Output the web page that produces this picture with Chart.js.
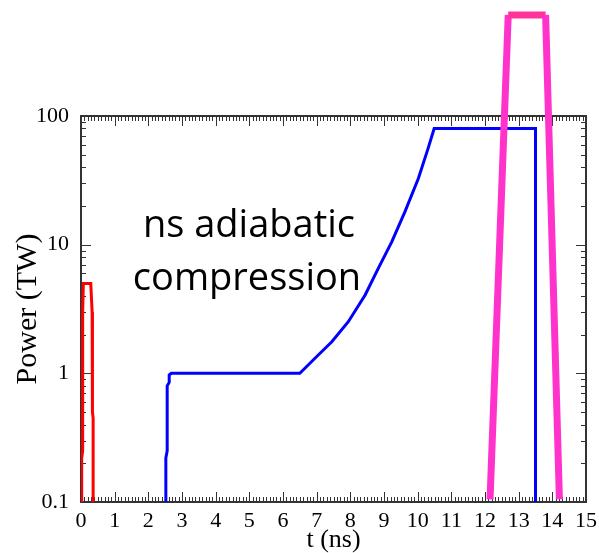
<!DOCTYPE html>
<html>
<head>
<meta charset="utf-8">
<script src="https://cdn.jsdelivr.net/npm/chart.js@4/dist/chart.umd.min.js"></script>
<style>
  html, body { margin: 0; padding: 0; background: #fff; }
  #wrap { width: 599px; height: 553px; }
</style>
</head>
<body>
<div id="wrap"><canvas id="power"></canvas></div>
<script>
// pulse shapes: time in ns, power in TW
const redT  = [0.02, 0.02, 0.05, 0.05, 0.07, 0.29, 0.33, 0.34, 0.36, 0.36];
const redP  = [0.1, 0.22, 0.25, 3, 5, 5, 3, 0.5, 0.45, 0.1];

const blueT = [2.52, 2.52, 2.56, 2.56, 2.62, 2.62, 2.68, 6.5, 6.95, 7.45, 7.94, 8.44, 8.83, 9.23, 9.62, 10.02, 10.31, 10.49, 13.5, 13.5];
const blueP = [0.1, 0.22, 0.25, 0.8, 0.85, 0.97, 1, 1, 1.31, 1.76, 2.52, 4.06, 6.54, 10.5, 18, 32.7, 56, 80, 80, 0.1];

const pinkT = [12.15, 12.69, 13.8, 14.21];
const pinkP = [0.105, 610, 610, 0.105];

const xTicks = [0, 1, 2, 3, 4, 5, 6, 7, 8, 9, 10, 11, 12, 13, 14, 15];
const yTicks = [0.1, 1, 10, 100];

const label = ['ns adiabatic', 'compression'];

function pts(t, p) {
  return t.map((v, i) => ({ x: v, y: p[i] }));
}

function line(ctx, x1, y1, x2, y2) {
  ctx.beginPath();
  ctx.moveTo(x1, y1);
  ctx.lineTo(x2, y2);
  ctx.stroke();
}

// box frame with inward ticks on all four sides
const frameTicks = {
  id: 'frameTicks',
  beforeDatasetsDraw(chart) {
    const { ctx, chartArea: a, scales: { x, y } } = chart;
    ctx.save();
    ctx.strokeStyle = '#333';
    ctx.lineWidth = 1;
    for (let i = 0; i <= 150; i++) {
      const px = Math.round(x.getPixelForValue(i / 10)) + 0.5;
      const len = i % 10 === 0 ? 10 : 5;
      line(ctx, px, a.bottom, px, a.bottom - len);
      line(ctx, px, a.top, px, a.top + len);
    }
    for (const dec of [0.1, 1, 10]) {
      for (let m = 1; m <= 10; m++) {
        const py = Math.round(y.getPixelForValue(dec * m)) + 0.5;
        const len = m === 1 || m === 10 ? 10 : 5;
        line(ctx, a.left, py, a.left + len, py);
        line(ctx, a.right, py, a.right - len, py);
      }
    }
    ctx.lineWidth = 2;
    ctx.strokeRect(a.left, a.top, a.right - a.left, a.bottom - a.top);
    ctx.restore();
  },
  afterDraw(chart) {
    const { ctx } = chart;
    ctx.save();
    ctx.fillStyle = '#000';
    ctx.font = '38px "Open Sans"';
    ctx.textAlign = 'center';
    ctx.textBaseline = 'alphabetic';
    ctx.fillText(label[0], 249, 237);
    ctx.fillText(label[1], 247, 290);
    ctx.restore();
  }
};

new Chart(document.getElementById('power'), {
  type: 'line',
  data: {
    datasets: [
      {
        data: pts(pinkT, pinkP),
        borderWidth: 7,
        borderColor: '#ff33cc',
        borderJoinStyle: 'bevel',
        segment: {
          borderColor: c => c.p0.parsed.y === c.p1.parsed.y ? '#ff3399' : '#ff33cc'
        },
        clip: false,
        order: 0
      },
      {
        data: pts(redT, redP),
        borderWidth: 3,
        borderColor: '#ff0000',
        order: 1
      },
      {
        data: pts(blueT, blueP),
        borderWidth: 3,
        borderColor: '#0000ff',
        order: 2
      }
    ]
  },
  options: {
    responsive: true,
    maintainAspectRatio: false,
    animation: false,
    events: [],
    layout: { padding: { top: 116, right: 13, left: 0, bottom: 0 } },
    elements: { point: { radius: 0 }, line: { tension: 0, fill: false } },
    plugins: { legend: { display: false }, tooltip: { enabled: false } },
    scales: {
      x: {
        type: 'linear',
        min: 0,
        max: 15,
        grid: { display: false },
        border: { display: false },
        afterBuildTicks: s => { s.ticks = xTicks.map(v => ({ value: v })); },
        afterFit: s => { s.height = 51; s.paddingLeft = 0; s.paddingRight = 0; },
        ticks: {
          color: '#000',
          padding: 0,
          maxRotation: 0,
          font: { family: '"Liberation Serif"', size: 22, lineHeight: 1 }
        },
        title: {
          display: true,
          text: 't (ns)',
          color: '#000',
          padding: { top: 0, bottom: 0 },
          font: { family: '"Liberation Serif"', size: 26, lineHeight: 1 }
        }
      },
      y: {
        type: 'logarithmic',
        min: 0.1,
        max: 100,
        grid: { display: false },
        border: { display: false },
        afterBuildTicks: s => { s.ticks = yTicks.map(v => ({ value: v })); },
        afterFit: s => { s.width = 81; s.paddingTop = 0; s.paddingBottom = 0; },
        ticks: {
          color: '#000',
          padding: 4,
          callback: v => String(v),
          font: { family: '"Liberation Serif"', size: 22, lineHeight: 1 }
        },
        title: {
          display: true,
          text: 'Power (TW)',
          color: '#000',
          padding: { top: 13, bottom: 0 },
          font: { family: '"Liberation Serif"', size: 30, lineHeight: 1 }
        }
      }
    }
  },
  plugins: [frameTicks]
});
</script>
</body>
</html>
